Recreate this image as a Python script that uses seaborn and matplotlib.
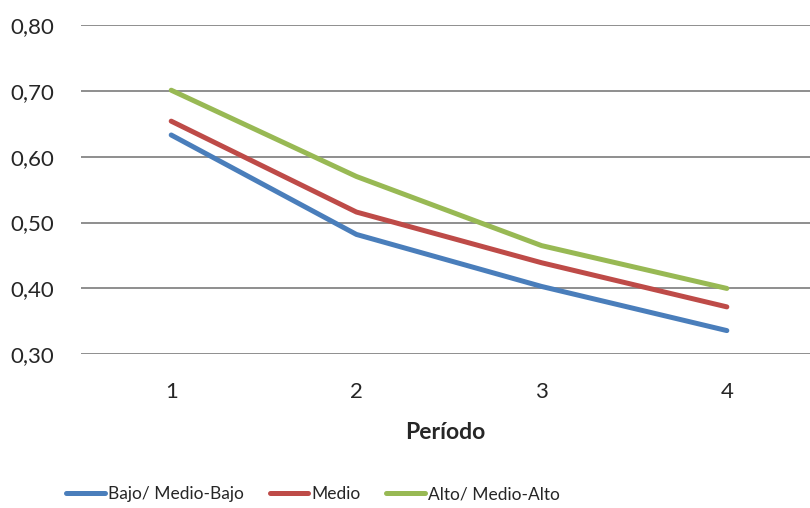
import matplotlib
matplotlib.use("Agg")
import matplotlib.pyplot as plt
import seaborn as sns
import pandas as pd

periodos = [1, 2, 3, 4]
bajo = [0.633, 0.482, 0.403, 0.336]
medio = [0.654, 0.516, 0.439, 0.372]
alto = [0.701, 0.570, 0.465, 0.400]
series = ["Bajo/ Medio-Bajo", "Medio", "Alto/ Medio-Alto"]
colores = ["#4A7EBB", "#BE4B48", "#98B954"]
y_ticks = [0.30, 0.40, 0.50, 0.60, 0.70, 0.80]

df = pd.DataFrame({
    "Período": periodos * 3,
    "valor": bajo + medio + alto,
    "grupo": [series[0]] * 4 + [series[1]] * 4 + [series[2]] * 4,
})

sns.set_theme(style="white")
plt.rcParams["font.family"] = ["Lato", "DejaVu Sans"]

fig = plt.figure(figsize=(8.10, 5.08), dpi=100)
ax = fig.add_axes([81 / 810, 1 - 354.3 / 508, (810 - 81) / 810, (354.3 - 25) / 508])

sns.lineplot(data=df, x="Período", y="valor", hue="grupo", hue_order=series,
             palette=colores, linewidth=3.6, ax=ax, legend=False,
             solid_capstyle="round")

ax.set_xlim(0.513, 4.449)
ax.set_ylim(0.30, 0.80)
ax.set_yticks(y_ticks)
ax.set_yticklabels([f"{v:.2f}".replace(".", ",") for v in y_ticks], fontsize=16)
ax.set_xticks(periodos)
ax.set_xticklabels([str(p) for p in periodos], fontsize=16)
ax.tick_params(axis="y", length=0, pad=19)
ax.tick_params(axis="x", length=0, pad=20)
ax.grid(axis="y", color="#868686", linewidth=1.3)
ax.grid(axis="x", visible=False)
for s in ax.spines.values():
    s.set_visible(False)
ax.set_xlabel("Período", fontsize=16.5, fontweight="bold", labelpad=14)
ax.set_ylabel("")

handles = [plt.Line2D([], [], color=c, linewidth=3.6, solid_capstyle="round") for c in colores]
fig.legend(handles, series, loc="center", bbox_to_anchor=(313 / 810, 1 - 494 / 508),
           ncol=3, frameon=False, fontsize=12.5, handlelength=2.2, handletextpad=0.18,
           columnspacing=1.5, borderpad=0.1)

fig.savefig("out.png", dpi=100)
